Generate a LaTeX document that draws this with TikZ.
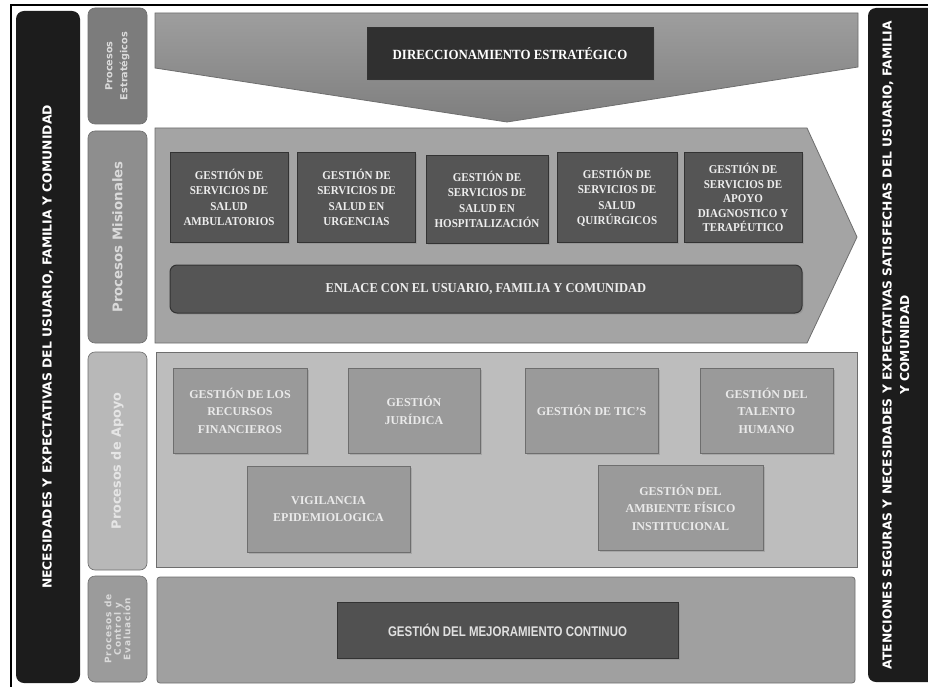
\documentclass[tikz,border=0pt]{standalone}
\usepackage{fontspec}
\setmainfont{Liberation Serif}
\newfontfamily\sidefont{DejaVu Sans}
\newfontfamily\labfont{DejaVu Sans}
\newfontfamily\labspfont[LetterSpace=10]{DejaVu Sans}
\newfontfamily\condfont[FakeStretch=0.92]{Liberation Serif}
\newfontfamily\narrowsans[FakeStretch=0.82]{Liberation Sans}
\usetikzlibrary{shadows}
\definecolor{sideblack}{HTML}{1C1C1C}
\definecolor{labest}{HTML}{7C7C7C}
\definecolor{labmis}{HTML}{8E8E8E}
\definecolor{labapo}{HTML}{B8B8B8}
\definecolor{labcon}{HTML}{9B9B9B}
\definecolor{labtext}{HTML}{DADADA}
\definecolor{pentop}{HTML}{9E9E9E}
\definecolor{penbot}{HTML}{7E7E7E}
\definecolor{mispanel}{HTML}{A4A4A4}
\definecolor{apopanel}{HTML}{BDBDBD}
\definecolor{conpanel}{HTML}{A0A0A0}
\definecolor{dirbox}{HTML}{303030}
\definecolor{misbox}{HTML}{555555}
\definecolor{apobox}{HTML}{9A9A9A}
\definecolor{apotext}{HTML}{EAEAEA}
\definecolor{edge}{HTML}{6E6E6E}
\begin{document}
\begin{tikzpicture}[x=1pt,y=-1pt,
  lab/.style={draw=edge, line width=0.6pt, rounded corners=7pt, rotate=90,
    minimum height=59pt, inner sep=1pt, text=labtext, align=center},
  panel/.style={draw=edge, line width=0.8pt},
  shd/.style={drop shadow={opacity=0.35, shadow xshift=1.5pt, shadow yshift=-1.5pt}},
  darkbox/.style={draw=black!80, line width=1pt, fill=misbox, text=white,
    align=center, inner sep=1pt, shd},
  mbox/.style={darkbox, text=white!93!black, font=\condfont\bfseries\fontsize{12}{15.5}\selectfont,
    minimum width=118pt, minimum height=89pt},
  abox/.style={draw=edge, line width=0.8pt, fill=apobox, text=apotext,
    align=center, inner sep=1pt, shd, font=\bfseries\fontsize{12}{17.5}\selectfont},
  sidepanel/.style={fill=sideblack, rounded corners=8pt},
  sidetext/.style={text=white, align=center, rotate=90, inner sep=0pt}
]
\useasboundingbox (0,0) rectangle (928,687);
\fill[white] (0,0) rectangle (928,687);
% outer frame (top and left)
\draw[line width=2pt] (11,690) -- (11,5) -- (935,5);

% side panels
\path[sidepanel] (16,11) rectangle (80,683);
\node[sidetext, font=\sidefont\bfseries\fontsize{12.4}{15}\selectfont] (ltext) at (48,347)
  {NECESIDADES Y EXPECTATIVAS DEL USUARIO, FAMILIA Y COMUNIDAD};
\path[sidepanel] (868,8) rectangle (945,682);
\node[sidetext, font=\sidefont\bfseries\fontsize{12.3}{17.5}\selectfont] (rtext) at (896,345)
  {ATENCIONES SEGURAS Y NECESIDADES Y EXPECTATIVAS SATISFECHAS DEL USUARIO, FAMILIA\\Y COMUNIDAD};

% label column
\node[lab, fill=labest, minimum width=116pt, font=\labfont\bfseries\fontsize{9.7}{15}\selectfont]
  (lest) at (117.5,66) {Procesos\\Estratégicos};
\node[lab, fill=labmis, minimum width=212pt, font=\labfont\bfseries\fontsize{13.3}{17}\selectfont]
  (lmis) at (117.5,237) {Procesos Misionales};
\node[lab, fill=labapo, minimum width=218pt, text=white!90!black, font=\labfont\bfseries\fontsize{12.8}{17}\selectfont]
  (lapo) at (117.5,461) {Procesos de Apoyo};
\node[lab, fill=labcon, minimum width=106pt, font=\labspfont\bfseries\fontsize{9}{9.5}\selectfont]
  (lcon) at (117.5,629) {Procesos de\\Control y\\Evaluación};

% strategic pentagon
\path[panel, top color=pentop, bottom color=penbot]
  (155,13) -- (858,13) -- (858,67) -- (507,122) -- (155,68) -- cycle;
\node[darkbox, fill=dirbox, minimum width=286pt, minimum height=52pt,
  font=\condfont\bfseries\fontsize{14}{16}\selectfont] (dir) at (510,54)
  {DIRECCIONAMIENTO ESTRATÉGICO};

% missional chevron
\path[panel, fill=mispanel]
  (155,128) -- (807,128) -- (857,237) -- (807,343) -- (155,343) -- cycle;
\node[mbox] (m1) at (229,197.5) {GESTIÓN DE\\SERVICIOS DE\\SALUD\\AMBULATORIOS};
\node[mbox] (m2) at (356.5,197.5) {GESTIÓN DE\\SERVICIOS DE\\SALUD EN\\URGENCIAS};
\node[mbox, minimum width=122pt, minimum height=87pt] (m3) at (487,199.5)
  {GESTIÓN DE\\SERVICIOS DE\\SALUD EN\\HOSPITALIZACIÓN};
\node[mbox, minimum width=120pt] (m4) at (617,197.5) {GESTIÓN DE\\SERVICIOS DE\\SALUD\\QUIRÚRGICOS};
\node[mbox, font=\condfont\bfseries\fontsize{12}{14.5}\selectfont] (m5) at (743,197.5)
  {GESTIÓN DE\\SERVICIOS DE\\APOYO\\DIAGNOSTICO Y\\TERAPÉUTICO};
\node[darkbox, text=white!93!black, rounded corners=7pt, minimum width=632pt, minimum height=48pt,
  font=\condfont\bfseries\fontsize{13.6}{16}\selectfont] (enl) at (486,289)
  {ENLACE CON EL USUARIO, FAMILIA Y COMUNIDAD};

% support panel
\path[panel, fill=apopanel] (156,352) rectangle (857,567);
\node[abox, minimum width=134pt, minimum height=85pt] (a1) at (240,410.5)
  {GESTIÓN DE LOS\\RECURSOS\\FINANCIEROS};
\node[abox, minimum width=132pt, minimum height=85pt] (a2) at (414,410.5)
  {GESTIÓN\\JURÍDICA};
\node[abox, minimum width=133pt, minimum height=85pt] (a3) at (591.5,410.5)
  {GESTIÓN DE TIC'S};
\node[abox, minimum width=133pt, minimum height=85pt] (a4) at (766.5,410.5)
  {GESTIÓN DEL\\TALENTO\\HUMANO};
\node[abox, minimum width=163pt, minimum height=86pt] (a5) at (328.5,509)
  {VIGILANCIA\\EPIDEMIOLOGICA};
\node[abox, minimum width=165pt, minimum height=85pt] (a6) at (680.5,507.5)
  {GESTIÓN DEL\\AMBIENTE FÍSICO\\INSTITUCIONAL};

% control panel
\path[panel, fill=conpanel, rounded corners=3pt] (157,577) rectangle (855,683);
\node[darkbox, fill=misbox!95!black, text=white!88!black, minimum width=341pt, minimum height=56pt,
  font=\narrowsans\bfseries\fontsize{14}{16}\selectfont] (mej) at (507.5,630)
  {GESTIÓN DEL MEJORAMIENTO CONTINUO};
\end{tikzpicture}
\end{document}
